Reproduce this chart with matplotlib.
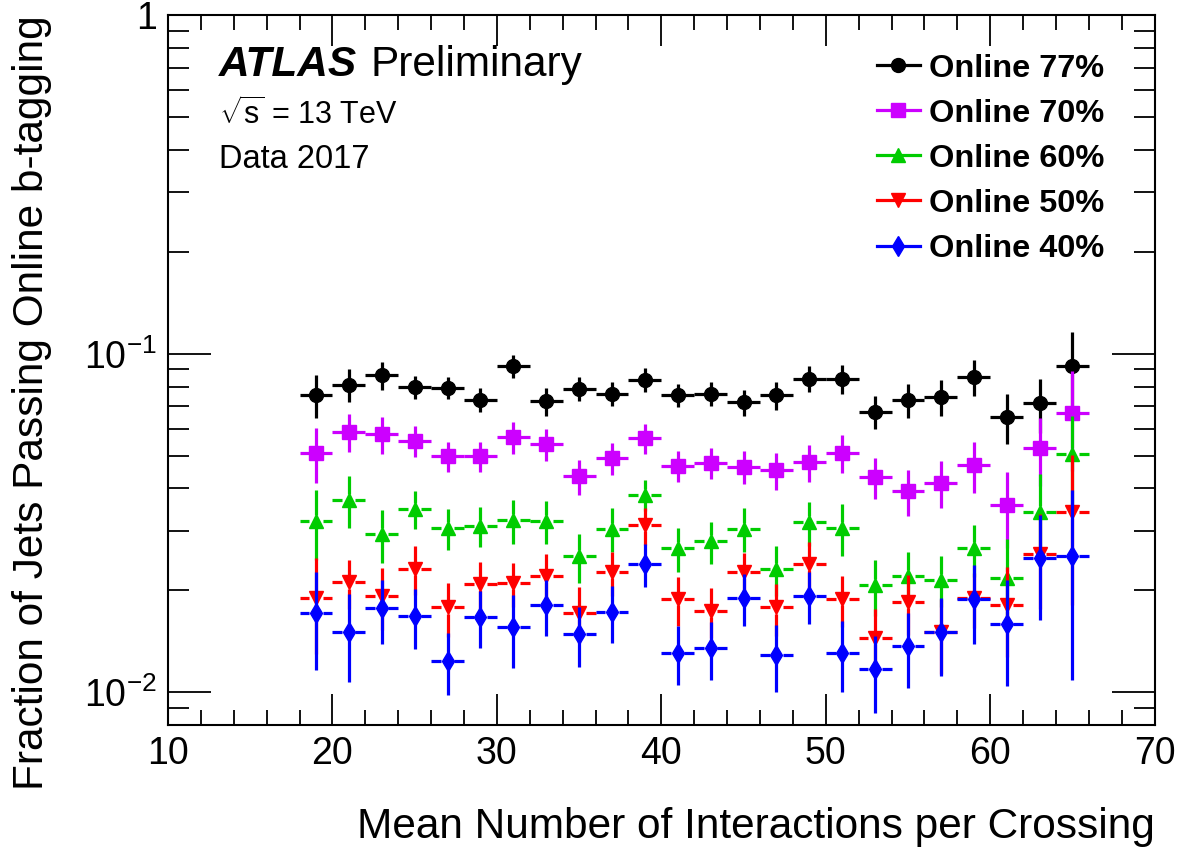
import numpy as np
import matplotlib
matplotlib.use("Agg")
import matplotlib.pyplot as plt
from matplotlib.lines import Line2D
from matplotlib.ticker import MultipleLocator, FixedLocator, NullFormatter

plt.rcParams['font.family'] = ['Liberation Sans', 'DejaVu Sans']
plt.rcParams['mathtext.fontset'] = 'custom'
plt.rcParams['mathtext.rm'] = 'Liberation Sans'
plt.rcParams['mathtext.it'] = 'Liberation Sans:italic'
plt.rcParams['mathtext.bf'] = 'Liberation Sans:bold'

# bin centres (mean interactions per crossing), bins are 2 wide
mu = [19, 21, 23, 25, 27, 29, 31, 33, 35, 37, 39, 41,
      43, 45, 47, 49, 51, 53, 55, 57, 59, 61, 63, 65]

eff77 = [0.0754, 0.0811, 0.0864, 0.0798, 0.0793, 0.0732, 0.0919, 0.0724,
         0.0789, 0.0763, 0.0839, 0.0754, 0.0763, 0.0718, 0.0754, 0.0845,
         0.0841, 0.0674, 0.0729, 0.0746, 0.0854, 0.0651, 0.0713, 0.0919]
err77 = [0.011, 0.009, 0.0084, 0.0063, 0.006, 0.0058, 0.0073, 0.0069,
         0.0066, 0.0064, 0.0066, 0.006, 0.006, 0.0061, 0.007, 0.0076,
         0.0083, 0.0074, 0.0083, 0.009, 0.0106, 0.011, 0.013, 0.024]

eff70 = [0.0510, 0.0588, 0.0578, 0.0553, 0.0498, 0.0498, 0.0568, 0.0541,
         0.0435, 0.0491, 0.0562, 0.0467, 0.0476, 0.0464, 0.0453, 0.0478,
         0.0510, 0.0433, 0.0393, 0.0416, 0.0469, 0.0357, 0.0527, 0.0669]
err70 = [0.0095, 0.0077, 0.0071, 0.0057, 0.0052, 0.0052, 0.0062, 0.0059,
         0.0052, 0.0053, 0.0056, 0.0048, 0.0049, 0.0051, 0.0056, 0.0059,
         0.0066, 0.006, 0.0061, 0.0067, 0.008, 0.009, 0.012, 0.022]

eff60 = [0.0321, 0.0370, 0.0293, 0.0348, 0.0305, 0.0310, 0.0323, 0.0321,
         0.0252, 0.0304, 0.0383, 0.0266, 0.0279, 0.0304, 0.0231, 0.0318,
         0.0306, 0.0207, 0.0220, 0.0215, 0.0266, 0.0218, 0.0341, 0.0504]
err60 = [0.0075, 0.0065, 0.0052, 0.0045, 0.0042, 0.0042, 0.0048, 0.0047,
         0.0042, 0.0045, 0.0041, 0.0039, 0.004, 0.0045, 0.0039, 0.0047,
         0.0053, 0.0039, 0.004, 0.0037, 0.0047, 0.0065, 0.010, 0.015]

eff50 = [0.0190, 0.0211, 0.0193, 0.0232, 0.0178, 0.0209, 0.0210, 0.0220,
         0.0172, 0.0226, 0.0312, 0.0188, 0.0174, 0.0227, 0.0178, 0.0239,
         0.0188, 0.0145, 0.0185, 0.0151, 0.0190, 0.0181, 0.0256, 0.0341]
err50 = [0.006, 0.0035, 0.004, 0.0038, 0.0032, 0.0033, 0.0031, 0.0036,
         0.0032, 0.0034, 0.0039, 0.0031, 0.0029, 0.003, 0.0031, 0.0039,
         0.0032, 0.0031, 0.0037, 0.0038, 0.0035, 0.0054, 0.008, 0.016]

eff40 = [0.0171, 0.0151, 0.0177, 0.0168, 0.0124, 0.0167, 0.0156, 0.0181,
         0.0149, 0.0173, 0.0239, 0.0131, 0.0135, 0.0190, 0.0129, 0.0193,
         0.0131, 0.0117, 0.0137, 0.0151, 0.0188, 0.0159, 0.0249, 0.0252]
err40 = [0.0055, 0.0044, 0.0038, 0.0034, 0.0026, 0.0032, 0.0038, 0.0034,
         0.003, 0.0033, 0.0035, 0.0026, 0.0026, 0.0033, 0.0029, 0.0034,
         0.0031, 0.003, 0.0034, 0.0039, 0.0049, 0.0055, 0.0086, 0.0143]

labels = ['Online 77%', 'Online 70%', 'Online 60%', 'Online 50%', 'Online 40%']
colors = ['black', '#cc00ff', '#00cc00', '#ff0000', '#0000ff']
markers = ['o', 's', '^', 'v', 'd']
msizes = [10, 9.5, 9.5, 9.5, 10]

ytick_vals = [0.01, 0.1, 1]
ytick_labels = [r'$10^{-2}$', r'$10^{-1}$', '1']

series = [(eff77, err77), (eff70, err70), (eff60, err60), (eff50, err50), (eff40, err40)]

fig = plt.figure(figsize=(11.83, 8.48), dpi=100)
ax = fig.add_axes([0.142, 0.145, 0.834, 0.837])

x = np.array(mu, dtype=float)
xgap = 0.4      # gap round the marker, in x units
ygap = 1.042    # same gap, as a factor on the log axis
lw = 2.3

for (eff, err), c, m, ms in zip(series, colors, markers, msizes):
    y = np.array(eff)
    e = np.array(err)
    ax.hlines(y, x - 1, x - xgap, color=c, lw=lw)
    ax.hlines(y, x + xgap, x + 1, color=c, lw=lw)
    ax.vlines(x, y - e, np.maximum(y / ygap, y - e), color=c, lw=lw)
    ax.vlines(x, np.minimum(y * ygap, y + e), y + e, color=c, lw=lw)
    ax.plot(x, y, ls='none', marker=m, ms=ms, color=c, mec=c)

ax.set_xlim(10, 70)
ax.set_yscale('log')
ax.set_ylim(0.008, 1)

ax.xaxis.set_major_locator(MultipleLocator(10))
ax.xaxis.set_minor_locator(MultipleLocator(2))
ax.yaxis.set_major_locator(FixedLocator(ytick_vals))
ax.set_yticklabels(ytick_labels)
minor = [k * 10.0 ** d for d in (-3, -2, -1) for k in range(2, 10)]
ax.yaxis.set_minor_locator(FixedLocator(minor))
ax.yaxis.set_minor_formatter(NullFormatter())

ax.tick_params(which='both', direction='in', top=True, right=True, width=1.3)
ax.tick_params(axis='x', which='major', length=22, labelsize=27, pad=8)
ax.tick_params(axis='x', which='minor', length=11)
ax.tick_params(axis='y', which='major', length=31, labelsize=27, pad=8)
ax.tick_params(axis='y', which='minor', length=15)
for s in ax.spines.values():
    s.set_linewidth(1.5)

ax.set_xlabel('Mean Number of Interactions per Crossing', fontsize=30.5, ha='right', x=1.0, labelpad=25)
ax.set_ylabel('Fraction of Jets Passing Online b-tagging', fontsize=30.5, ha='right', y=1.0, labelpad=23)

fig.text(0.185, 0.910, 'ATLAS', fontsize=30.5, fontweight='bold', fontstyle='italic', va='baseline')
fig.text(0.3128, 0.910, 'Preliminary', fontsize=30.5, va='baseline')
fig.text(0.185, 0.854, r'$\sqrt{\mathrm{s}}$ = 13 TeV', fontsize=22, va='baseline')
fig.text(0.185, 0.802, 'Data 2017', fontsize=23.5, va='baseline')

handles = [Line2D([], [], color=c, marker=m, ms=ms, lw=lw) for c, m, ms in zip(colors, markers, msizes)]
ax.legend(handles, labels, loc='upper left', bbox_to_anchor=(0.702, 0.969), frameon=False,
          prop={'size': 23.4, 'weight': 'bold'}, handlelength=1.32, handletextpad=0.3,
          labelspacing=0.465, borderpad=0)

fig.savefig('out.png', dpi=100)
